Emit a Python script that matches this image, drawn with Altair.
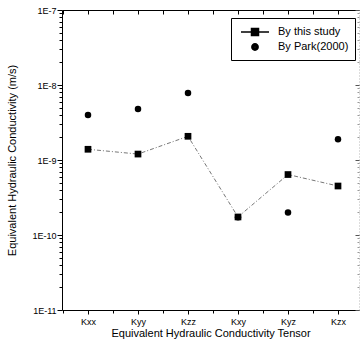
import altair as alt
import pandas as pd
import json

categories = ["Kxx", "Kyy", "Kzz", "Kxy", "Kyz", "Kzx"]
this_study = [1.39e-9, 1.20e-9, 2.07e-9, 1.74e-10, 6.4e-10, 4.5e-10]
park_2000 = [3.98e-9, 4.8e-9, 7.8e-9, 1.72e-10, 2.0e-10, 1.89e-9]
y_major = [1e-11, 1e-10, 1e-9, 1e-8, 1e-7]
y_minor = [k * 10.0 ** n for n in range(-11, -7) for k in range(2, 10)]
x_major = [1, 2, 3, 4, 5, 6]
x_minor = [0.5, 1.5, 2.5, 3.5, 4.5, 5.5]

S1 = "By this study"
S2 = "By Park(2000)"

rows = []
for i, c in enumerate(categories):
    rows.append({"idx": i + 1, "cat": c, "series": S1, "K": this_study[i]})
    rows.append({"idx": i + 1, "cat": c, "series": S2, "K": park_2000[i]})
df = pd.DataFrame(rows)

FONT = "Liberation Sans"
xscale = alt.Scale(domain=[0.48, 6.42], nice=False, zero=False)
yscale = alt.Scale(type="log", domain=[1e-11, 1e-7], nice=False)
lab_expr = "%s[datum.value - 1]" % json.dumps(categories)

TK = dict(ticks=True, tickWidth=1, tickOpacity=1, grid=False, title=None)

base = alt.Chart(df)

line = base.transform_filter(alt.datum.series == S1).mark_line(
    color="#777777", strokeWidth=1, strokeDash=[4, 2, 1, 2]
).encode(
    x=alt.X("idx:Q", scale=xscale, axis=alt.Axis(
        orient="bottom", values=x_major, labelExpr=lab_expr, tickSize=4,
        ticks=True, tickWidth=1, tickOpacity=1, grid=False,
        title="Equivalent Hydraulic Conductivity Tensor",
        domainColor="black", domainWidth=1, tickColor="black", labelFont=FONT,
        labelFontSize=9, labelColor="black", titleFont=FONT, titleFontSize=11,
        titleFontWeight="normal", titleColor="black", labelPadding=3, titlePadding=1)),
    y=alt.Y("K:Q", scale=yscale, axis=alt.Axis(
        orient="left", values=y_major,
        labelExpr="'1E' + round(log(datum.value) / LN10)", tickSize=5,
        ticks=True, tickWidth=1, tickOpacity=1, grid=False,
        title="Equivalent Hydraulic Conductivity (m/s)",
        domainColor="black", domainWidth=1, tickColor="black", labelFont=FONT,
        labelFontSize=9, labelColor="black", titleFont=FONT, titleFontSize=11,
        titleFontWeight="normal", titleColor="black", labelPadding=1, titlePadding=14)),
)

squares = base.transform_filter(alt.datum.series == S1).mark_square(
    color="black", size=45, opacity=1
).encode(
    x=alt.X("idx:Q", scale=xscale, axis=alt.Axis(
        orient="bottom", values=x_minor, labels=False, domain=False, tickSize=3,
        tickColor="black", **TK)),
    y=alt.Y("K:Q", scale=yscale, axis=alt.Axis(
        orient="left", values=y_minor, labels=False, domain=False, tickSize=3,
        tickColor="black", **TK)),
)

circles = base.transform_filter(alt.datum.series == S2).mark_circle(
    color="black", size=42, opacity=1
).encode(
    x=alt.X("idx:Q", scale=xscale, axis=alt.Axis(
        orient="top", ticks=False, labels=False, domain=True, domainColor="black",
        title=None, grid=False)),
    y=alt.Y("K:Q", scale=yscale, axis=alt.Axis(
        orient="right", ticks=False, labels=False, domain=True, domainColor="#bbbbbb",
        domainDash=[1, 2], title=None, grid=False)),
)

SQ = ("M-2,0L2,0"
      "M-0.5,-0.5L0.5,-0.5L0.5,0.5L-0.5,0.5Z"
      "M-0.3,-0.3L0.3,-0.3L0.3,0.3L-0.3,0.3Z"
      "M-0.1,-0.1L0.1,-0.1L0.1,0.1L-0.1,0.1Z")
CI = ("M0.45,0A0.45,0.45 0 1,1 -0.45,0A0.45,0.45 0 1,1 0.45,0Z"
      "M0.25,0A0.25,0.25 0 1,1 -0.25,0A0.25,0.25 0 1,1 0.25,0Z"
      "M0.07,0A0.07,0.07 0 1,1 -0.07,0A0.07,0.07 0 1,1 0.07,0Z")

legend_layer = base.mark_point(
    opacity=0, filled=False, color="black", strokeWidth=1.5
).encode(
    x=alt.X("idx:Q", scale=xscale, axis=alt.Axis(
        orient="top", values=x_major + x_minor, labels=False, domain=False,
        tickSize=4, offset=-4, tickColor="black", **TK)),
    y=alt.Y("K:Q", scale=yscale, axis=alt.Axis(
        orient="right", values=y_major, labels=False, domain=False,
        tickSize=4, offset=-4, tickColor="#555555", **TK)),
    shape=alt.Shape("series:N", scale=alt.Scale(domain=[S1, S2], range=[SQ, CI]),
        legend=alt.Legend(
            title=None, orient="none", legendX=169, legendY=8,
            symbolSize=196, symbolOpacity=1, symbolStrokeWidth=1.5,
            symbolStrokeColor="black", symbolOffset=10,
            labelFont=FONT, labelFontSize=11, labelColor="black",
            fillColor="white", strokeColor="black", padding=6,
            rowPadding=0, labelOffset=15)),
)

minor_right = base.mark_point(opacity=0).encode(
    x=alt.X("idx:Q", scale=xscale, axis=None),
    y=alt.Y("K:Q", scale=yscale, axis=alt.Axis(
        orient="right", values=y_minor, labels=False, domain=False,
        tickSize=2, offset=-2, tickColor="#999999", **TK)),
)

chart = alt.layer(line, squares, circles, legend_layer, minor_right).resolve_axis(
    x="independent", y="independent"
).properties(
    width=297, height=300,
    autosize=alt.AutoSizeParams(type="none"),
    padding={"left": 62, "top": 10, "right": 2, "bottom": 41},
    background="white",
).configure_view(stroke=None)

chart.save("out.html", embed_options={"renderer": "svg", "actions": False})
